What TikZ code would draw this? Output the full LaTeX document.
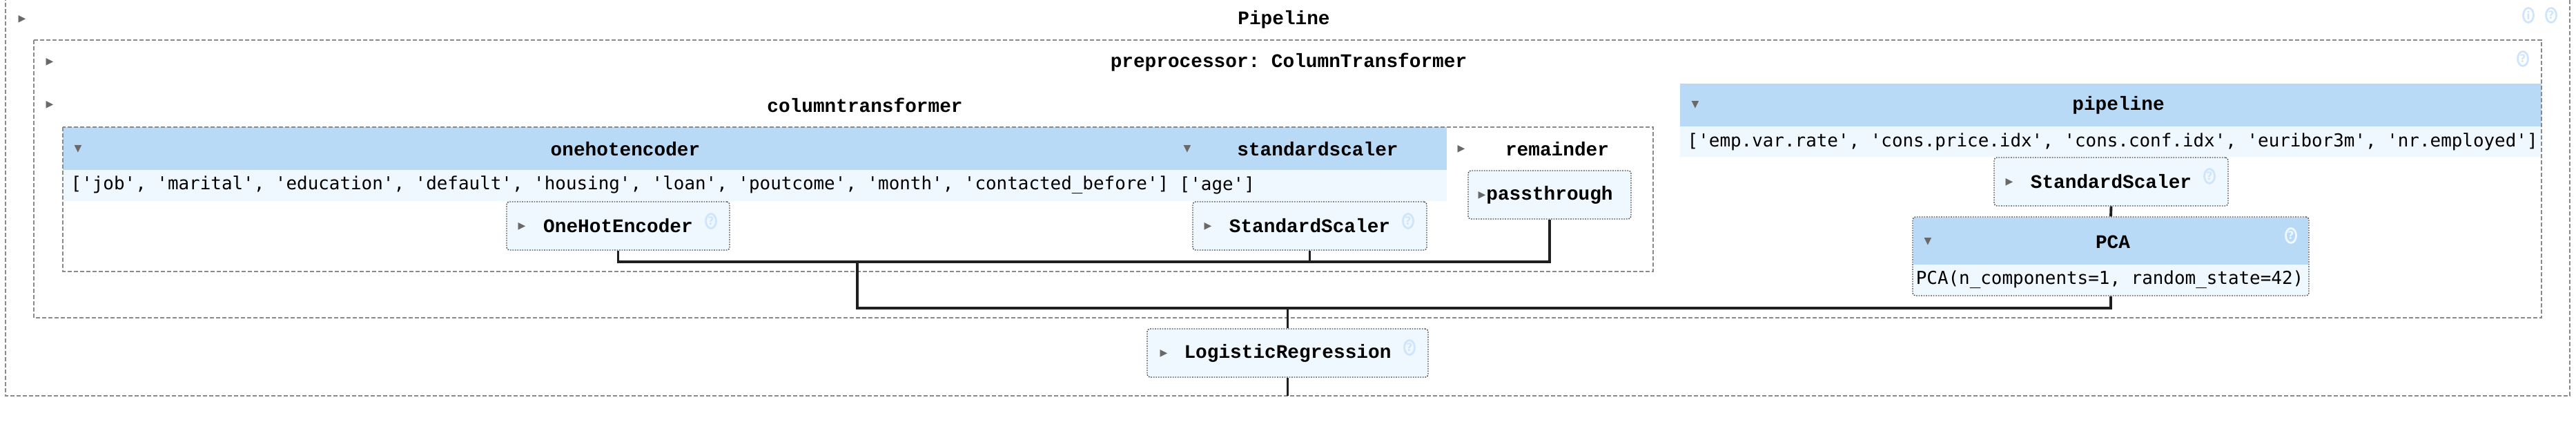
\documentclass[tikz,border=0pt]{standalone}
\usepackage{fontspec}
\usetikzlibrary{shapes.geometric}
\newfontfamily\titlefont{Liberation Mono}
\newfontfamily\datafont{DejaVu Sans Mono}[Ligatures=TeXOff]
\newfontfamily\symfont{DejaVu Sans}
\definecolor{skhead}{RGB}{185,218,247}
\definecolor{skfill}{HTML}{F0F8FF}
\definecolor{skicon}{HTML}{CFE5FB}
\definecolor{skborder}{HTML}{8A8A8A}
\definecolor{sktri}{HTML}{696969}
\definecolor{skwire}{HTML}{1F1F1F}
\frenchspacing
\begin{document}
\begin{tikzpicture}[
dashbox/.style={draw=skborder, line width=0.5pt, dash pattern=on 0.06cm off 0.03cm},
estbox/.style={rectangle, rounded corners=0.04cm, draw=black!70, line width=0.4pt, dash pattern=on 0.5pt off 0.5pt, fill=skfill, inner sep=0pt, minimum height=0.70cm, font=\titlefont\bfseries\fontsize{7.9}{9}\selectfont},
title/.style={font=\titlefont\bfseries\fontsize{7.9}{9}\selectfont, inner sep=0pt},
data/.style={font=\datafont\fontsize{7.37}{9}\selectfont, inner sep=0pt, anchor=west},
closedtri/.style={font=\symfont\fontsize{4}{4}\selectfont, text=sktri, inner sep=0pt},
helpicon/.style={ellipse, draw=skicon, line width=0.8pt, minimum width=0.15cm, minimum height=0.21cm, inner sep=0pt, text=skicon, font=\symfont\bfseries\fontsize{4.5}{5}\selectfont},
wire/.style={draw=skwire, line width=1.1pt},]

	\useasboundingbox (0,0) rectangle (37.32,6.20);

	% header and data rows
	\fill[skhead] (0.91,4.36) rectangle (20.96,3.74);
	\fill[skfill] (0.91,3.74) rectangle (20.96,3.29);
	\fill[skhead] (24.34,4.99) rectangle (36.82,4.37);
	\fill[skfill] (24.34,4.37) rectangle (36.82,3.93);

	% dashed containers
	\draw[dashbox] (0.08,6.25) rectangle (37.23,0.47);
	\draw[dashbox] (0.49,5.62) rectangle (36.82,1.60);
	\draw[dashbox] (0.91,4.36) rectangle (23.95,2.27);

	% PCA box with header
	\fill[skfill, rounded corners=0.04cm] (27.71,3.06) rectangle (33.45,1.92);
	\fill[skhead] (27.72,3.05) rectangle (33.44,2.37);
	\node (pca) [estbox, fill=none, minimum width=5.74cm, minimum height=1.14cm] at (30.58,2.49) {};

	% estimators
	\node (ohe) [estbox, minimum width=3.23cm] at (8.955,2.93) {OneHotEncoder};
	\node (ssct) [estbox, minimum width=3.39cm] at (18.975,2.93) {StandardScaler};
	\node (pass) [estbox, minimum width=2.36cm] at (22.45,3.38) {passthrough};
	\node (ssr) [estbox, minimum width=3.39cm] at (30.585,3.57) {StandardScaler};
	\node (lr) [estbox, minimum width=4.07cm] at (18.655,1.09) {LogisticRegression};

	% connectors
	\coordinate (ctjoin) at (12.42,2.41);
	\coordinate (mainjoin) at (18.655,1.74);
	\coordinate (pipeend) at (18.655,0.47);
	\draw[wire] (ohe.south) |- (ctjoin) -| (pass.south);
	\draw[wire] (ssct.south) -- (ssct.south |- ctjoin);
	\draw[wire] (ctjoin) |- (mainjoin) -| (pca.south);
	\draw[wire] (ssr.south) -- (pca.north);
	\draw[wire] (mainjoin) -- (lr.north);
	\draw[wire] (lr.south) -- (pipeend);

	% titles
	\node (tpipe) [title] at (18.60,5.92) {Pipeline};
	\node (tprep) [title] at (18.67,5.30) {preprocessor: ColumnTransformer};
	\node (tct) [title] at (12.53,4.68) {columntransformer};
	\node (tpipeline) [title] at (30.69,4.68) {pipeline};
	\node (tohe) [title] at (9.06,4.04) {onehotencoder};
	\node (tss) [title] at (19.09,4.04) {standardscaler};
	\node (trem) [title] at (22.56,4.04) {remainder};
	\node (tpca) [title] at (30.61,2.70) {PCA};

	% column lists
	\node (dohe) [data] at (1.02,3.52) {['job', 'marital', 'education', 'default', 'housing', 'loan', 'poutcome', 'month', 'contacted\_before']};
	\node (dss) [data] at (17.08,3.52) {['age']};
	\node (dpipeline) [data] at (24.44,4.15) {['emp.var.rate', 'cons.price.idx', 'cons.conf.idx', 'euribor3m', 'nr.employed']};
	\node (dpca) [data, anchor=center] at (30.565,2.15) {PCA(n\_components=1, random\_state=42)};

	% toggles
	\node (kpipe) [closedtri] at (0.32,5.92) {▶};
	\node (kprep) [closedtri] at (0.72,5.30) {▶};
	\node (kct) [closedtri] at (0.72,4.68) {▶};
	\node (kpipeline) [closedtri] at (24.56,4.68) {▼};
	\node (kohe) [closedtri] at (1.13,4.04) {▼};
	\node (kss) [closedtri] at (17.20,4.04) {▼};
	\node (krem) [closedtri] at (21.17,4.04) {▶};
	\node (kpass) [closedtri] at (21.47,3.37) {▶};
	\node (kohebox) [closedtri] at (7.56,2.92) {▶};
	\node (kssct) [closedtri] at (17.50,2.92) {▶};
	\node (kssr) [closedtri] at (29.11,3.56) {▶};
	\node (kpca) [closedtri] at (27.93,2.70) {▼};
	\node (klr) [closedtri] at (16.86,1.08) {▶};

	% help icons
	\node (ipipe) [helpicon] at (36.63,5.98) {i};
	\node (hpipe) [helpicon] at (36.96,5.98) {?};
	\node (hprep) [helpicon] at (36.55,5.35) {?};
	\node (hohe) [helpicon] at (10.30,3.00) {?};
	\node (hssct) [helpicon] at (20.40,3.00) {?};
	\node (hssr) [helpicon] at (32.01,3.65) {?};
	\node (hpca) [helpicon, draw=skfill, text=skfill] at (33.19,2.79) {?};
	\node (hlr) [helpicon] at (20.42,1.17) {?};

\end{tikzpicture}
\end{document}
